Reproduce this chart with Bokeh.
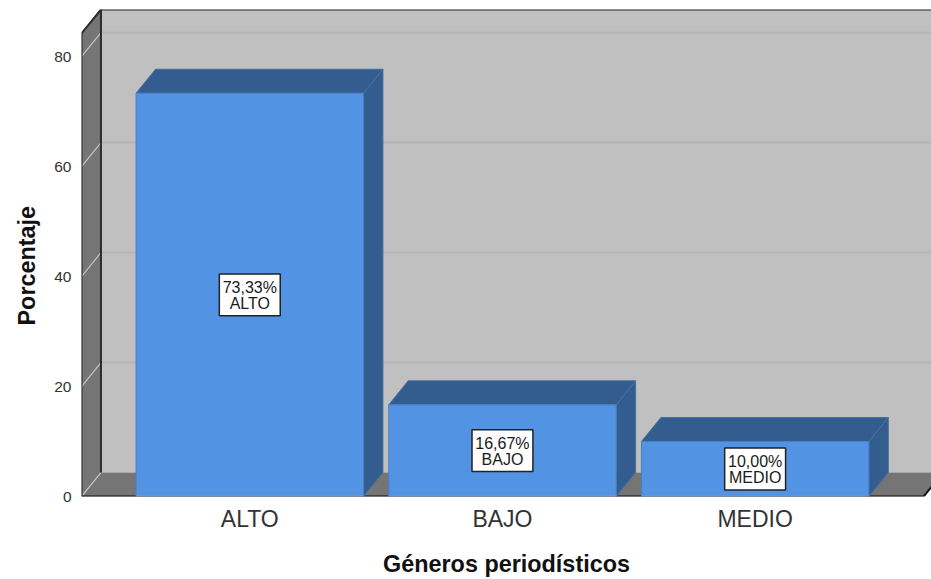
from bokeh.plotting import figure
from bokeh.embed import file_html
from bokeh.resources import INLINE
from bokeh.core.properties import value
from bokeh.models import FixedTicker, Title

# Data
categories = ["ALTO", "BAJO", "MEDIO"]
percentages = [73.33, 16.67, 10.00]
pct_labels = ["73,33%", "16,67%", "10,00%"]
y_ticks = [0, 20, 40, 60, 80]
x_title = "Géneros periodísticos"
y_title = "Porcentaje"

# Scene geometry, in data units
BAR_W = 0.90
DX = 0.077
DY = 4.36
X0, X1 = -0.666, 2.698
FRONT_R = 2.667
FRONT_TOP = 84.2
Y1 = 88.55
BOX_W, BOX_H = 0.241, 7.6
FONT = value("Liberation Sans")

xs = list(range(len(categories)))

p = figure(width=931, height=579, output_backend="svg", toolbar_location=None,
           x_range=(X0, X1), y_range=(0, Y1),
           min_border_left=80, min_border_right=0, min_border_top=9, min_border_bottom=83)
p.outline_line_color = None
p.grid.visible = False
p.background_fill_color = "white"
p.border_fill_color = "white"

# back wall, floor, side wall
p.patch([X0 + DX, X1 + 1, X1 + 1, X0 + DX], [DY, DY, Y1, Y1], color="#c0c0c0", line_color=None)
for t in y_ticks[1:]:
    p.line([X0 + DX, X1 + 1], [t + DY, t + DY], line_color="#b4b4b4", line_width=2)
p.patch([X0, FRONT_R, FRONT_R + DX, X0 + DX], [0, 0, DY, DY], color="#757575", line_color=None)
p.patch([X0, X0 + DX, X0 + DX, X0], [0, DY, Y1, FRONT_TOP], color="#757575", line_color=None)
for t in y_ticks:
    p.line([X0, X0 + DX], [t, t + DY], line_color="#c4c4c4", line_width=1.2)

# frame edges
p.line([X0, X0, X0 + DX, X1 + 1], [0, FRONT_TOP, Y1, Y1], line_color="#2b2b2b", line_width=2)
p.line([X0 + DX, X0 + DX], [DY, Y1], line_color="#2b2b2b", line_width=2)
p.line([X0, FRONT_R, FRONT_R + DX], [0, 0, DY], line_color="#111111", line_width=2)

# bars
for x, v, name, lab in zip(xs, percentages, categories, pct_labels):
    l, r = x - BAR_W / 2, x + BAR_W / 2
    p.patch([r, r + DX, r + DX, r], [0, DY, v + DY, v], color="#335c8f", line_color="#4a6f9e", line_width=1)
    p.patch([l, l + DX, r + DX, r], [v, v + DY, v + DY, v], color="#335c8f", line_color="#4a6f9e", line_width=1)
    p.quad(left=l, right=r, bottom=0, top=v, fill_color="#5294e3", line_color="#4a7fc0", line_width=1)
    p.line([l, r], [0, 0], line_color="#9a9a9a", line_width=1.5)
    c = v / 2
    p.quad(left=x - BOX_W / 2, right=x + BOX_W / 2, bottom=c - BOX_H / 2, top=c + BOX_H / 2,
           fill_color="white", line_color="#222222", line_width=1.5)
    p.text([x], [c + 1.3], text=[lab], text_font=FONT, text_font_size="16px", text_color="#1a1a1a",
           text_align="center", text_baseline="middle")
    p.text([x], [c - 1.6], text=[name], text_font=FONT, text_font_size="16px", text_color="#1a1a1a",
           text_align="center", text_baseline="middle")

# axes
p.yaxis.ticker = FixedTicker(ticks=y_ticks)
p.xaxis.ticker = FixedTicker(ticks=xs)
p.xaxis.major_label_overrides = {i: c for i, c in zip(xs, categories)}
for ax in (p.xaxis[0], p.yaxis[0]):
    ax.axis_line_color = None
    ax.major_tick_line_color = None
    ax.minor_tick_line_color = None
    ax.major_tick_out = 0
    ax.major_tick_in = 0
    ax.minor_tick_out = 0
    ax.minor_tick_in = 0
    ax.major_label_text_font = "Liberation Sans"
    ax.major_label_text_color = "#333333"
p.yaxis.major_label_text_font_size = "15.5px"
p.xaxis.major_label_text_font_size = "23px"
p.yaxis.major_label_standoff = 10
p.xaxis.major_label_standoff = 9

# axis titles
p.xaxis.axis_label = x_title
p.xaxis.axis_label_text_font = "Liberation Sans"
p.xaxis.axis_label_text_font_style = "bold"
p.xaxis.axis_label_text_font_size = "23.4px"
p.xaxis.axis_label_text_color = "#111111"
p.xaxis.axis_label_standoff = 16
p.add_layout(Title(text=y_title, align="left", offset=171, standoff=23, vertical_align="bottom",
                   text_font="Liberation Sans", text_font_style="bold", text_font_size="23.4px",
                   text_color="#111111"), "left")

open("out.html", "w").write(file_html(p, INLINE))
